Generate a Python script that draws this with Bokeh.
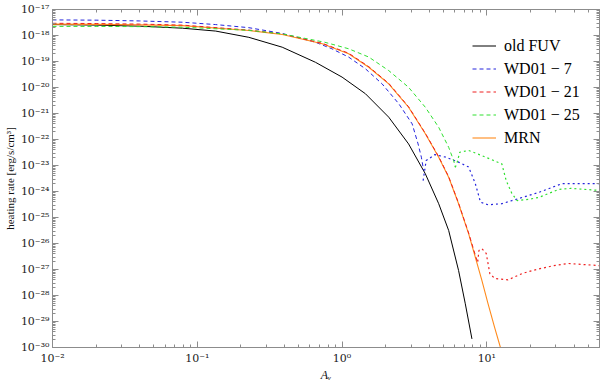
from bokeh.plotting import figure
from bokeh.models import (LogAxis, FixedTicker, CustomJSTickFormatter, Legend,
                          LegendItem, Range1d)
from bokeh.embed import file_html
from bokeh.resources import INLINE

# ---------------- data ----------------
av_oldfuv = [0.01, 0.02, 0.04, 0.079, 0.134, 0.227, 0.386, 0.655, 1.0, 1.45, 2.1, 2.88,
             3.76, 4.65, 5.45, 6.38, 7.1, 7.89]
rate_oldfuv = [2.63e-18, 2.51e-18, 2.29e-18, 1.91e-18, 1.48e-18, 8.51e-19, 3.55e-19,
               9.33e-20, 2.51e-20, 5.75e-21, 7.24e-22, 6.76e-23, 4.79e-24, 3.39e-25,
               3.16e-26, 9.12e-28, 4.79e-29, 2.14e-30]

av_wd7 = [0.01, 0.02, 0.04, 0.079, 0.134, 0.227, 0.386, 0.655, 0.85, 1.11, 1.45, 1.89,
          2.47, 3.05, 3.35, 3.53, 3.66]
rate_wd7 = [3.98e-18, 3.89e-18, 3.63e-18, 3.24e-18, 2.63e-18, 2.0e-18, 1.20e-18,
            5.50e-19, 3.09e-19, 1.48e-19, 5.25e-20, 1.38e-20, 2.34e-21, 3.98e-22,
            6.76e-23, 2.09e-23, 6.46e-24]
av_wd7_neg = [3.63, 3.81, 4.38, 5.2, 6.38, 7.49, 8.33, 9.04, 10.2, 12.7, 14.9, 22.7,
              33.0, 60.0]
rate_wd7_neg = [2.63e-24, 1.55e-23, 2.63e-23, 2.09e-23, 1.35e-23, 8.71e-24, 2.0e-24,
                3.89e-25, 3.09e-25, 3.39e-25, 4.47e-25, 9.12e-25, 2.0e-24, 2.0e-24]

av_wd21 = [0.01, 0.02, 0.04, 0.079, 0.227, 0.386, 0.73, 1.11, 1.53, 2.1, 2.88, 3.76,
           4.65, 5.45, 6.38, 7.49, 8.33, 8.6]
rate_wd21 = [2.95e-18, 2.88e-18, 2.75e-18, 2.51e-18, 1.62e-18, 1.15e-18, 5.01e-19,
             2.09e-19, 6.31e-20, 1.45e-20, 1.82e-21, 1.74e-22, 2.19e-23, 3.72e-24,
             3.55e-25, 2.51e-26, 3.55e-27, 2.0e-27]
av_wd21_neg = [8.65, 8.82, 9.24, 9.9, 10.5, 11.4, 14.0, 17.6, 22.0, 29.0, 36.6, 60.0]
rate_wd21_neg = [2.0e-27, 5.37e-27, 6.31e-27, 4.17e-27, 6.76e-28, 4.47e-28, 3.98e-28,
                 7.08e-28, 1.0e-27, 1.41e-27, 1.70e-27, 1.41e-27]

av_wd25 = [0.01, 0.02, 0.04, 0.079, 0.227, 0.386, 0.76, 1.11, 1.53, 2.1, 2.88, 3.76,
           4.65, 5.45, 5.9, 6.05]
rate_wd25 = [2.24e-18, 2.24e-18, 2.19e-18, 2.09e-18, 1.58e-18, 1.15e-18, 5.50e-19,
             3.09e-19, 1.48e-19, 4.47e-20, 1.02e-20, 1.74e-21, 2.95e-22, 5.01e-23,
             1.55e-23, 8.51e-24]
av_wd25_neg = [6.05, 6.2, 6.5, 7.49, 9.24, 12.7, 13.6, 14.9, 16.2, 19.5, 22.8, 31.3,
               38.0, 60.0]
rate_wd25_neg = [8.51e-24, 1.15e-23, 3.24e-23, 3.80e-23, 2.40e-23, 1.15e-23, 2.63e-24,
                 8.32e-25, 4.47e-25, 5.01e-25, 5.89e-25, 1.20e-24, 1.32e-24, 1.10e-24]

av_mrn = [0.01, 0.02, 0.04, 0.079, 0.227, 0.386, 0.73, 1.11, 1.53, 2.1, 2.88, 3.76,
          4.65, 5.45, 6.38, 7.49, 8.33, 9.24, 10.2, 11.3, 12.4, 12.6]
rate_mrn = [2.75e-18, 2.69e-18, 2.57e-18, 2.40e-18, 1.55e-18, 1.10e-18, 4.79e-19,
            2.0e-19, 6.03e-20, 1.38e-20, 1.74e-21, 1.66e-22, 2.09e-23, 3.55e-24,
            3.39e-25, 2.34e-26, 2.95e-27, 3.80e-28, 4.79e-29, 6.03e-30, 1.02e-30, 6.31e-31]

legend_labels = ["old FUV", "WD01 \u2212 7", "WD01 \u2212 21", "WD01 \u2212 25", "MRN"]

x_major = [0.01, 0.1, 1.0, 10.0]
y_major = [10.0 ** e for e in range(-30, -16)]
x_minor = [k * m for m in x_major for k in range(2, 10)]
y_minor = [k * m for m in y_major for k in range(2, 10)]

# ---------------- styling ----------------
FONT = "Liberation Serif"
TICK_FONT = "DejaVu Serif"
GRAY = "#8c8c8c"
C_BLACK, C_BLUE, C_RED, C_GREEN, C_ORANGE = "#000000", "#2424dc", "#ee2020", "#30e030", "#ff8a1c"

FW, FH = 547, 338
p = figure(frame_width=FW, frame_height=FH, x_axis_type="log", y_axis_type="log",
           x_range=Range1d(0.01, 60), y_range=Range1d(1e-30, 1e-17),
           output_backend="svg", toolbar_location=None,
           min_border_left=50, min_border_right=3, min_border_top=9, min_border_bottom=38)
p.grid.visible = False
p.outline_line_color = GRAY
p.background_fill_color = "white"

fmt_js = """
const sup = {'-':'\u207b','0':'\u2070','1':'\u00b9','2':'\u00b2','3':'\u00b3','4':'\u2074',
             '5':'\u2075','6':'\u2076','7':'\u2077','8':'\u2078','9':'\u2079'};
const e = Math.round(Math.log10(tick));
return '10' + String(e).split('').map(c => sup[c]).join('');
"""
blank_js = "return '';"

def style_axis(ax, ticks, minors, labels=True):
    ax.ticker = FixedTicker(ticks=ticks, minor_ticks=minors)
    ax.formatter = CustomJSTickFormatter(code=fmt_js if labels else blank_js)
    ax.axis_line_color = GRAY
    ax.major_tick_line_color = GRAY
    ax.minor_tick_line_color = GRAY
    ax.major_tick_in = 6
    ax.major_tick_out = 0
    ax.minor_tick_in = 3
    ax.minor_tick_out = 0
    ax.major_label_text_font = TICK_FONT
    ax.major_label_text_font_size = "11px"
    ax.major_label_text_color = "#222222"
    ax.axis_label_text_font = FONT
    ax.axis_label_text_color = "#111111"

xa = p.xaxis[0]
ya = p.yaxis[0]
style_axis(xa, x_major, x_minor)
style_axis(ya, y_major, y_minor)
xa.major_label_standoff = 4
ya.major_label_standoff = 3
xa.axis_label = "A\u1d65"
xa.axis_label_text_font_size = "12px"
xa.axis_label_text_font_style = "italic"
xa.axis_label_standoff = 0
ya.axis_label = "heating rate [erg/s/cm\u00b3]"
ya.axis_label_text_font_size = "11px"
ya.axis_label_text_font_style = "normal"
ya.axis_label_standoff = 2

top = LogAxis()
style_axis(top, x_major, x_minor, labels=False)
top.major_label_text_font_size = "0px"
p.add_layout(top, "above")
right = LogAxis()
style_axis(right, y_major, y_minor, labels=False)
right.major_label_text_font_size = "0px"
p.add_layout(right, "right")

# ---------------- lines ----------------
DASH = "4 3"
DOT = "2 3"
r_old = p.line(av_oldfuv, rate_oldfuv, line_color=C_BLACK, line_width=1)
r_wd7 = p.line(av_wd7, rate_wd7, line_color=C_BLUE, line_width=1, line_dash=DASH)
p.line(av_wd7_neg, rate_wd7_neg, line_color=C_BLUE, line_width=1.2, line_dash=DOT)
r_mrn = p.line(av_mrn, rate_mrn, line_color=C_ORANGE, line_width=1.1)
r_wd21 = p.line(av_wd21, rate_wd21, line_color=C_RED, line_width=1, line_dash=DASH)
p.line(av_wd21_neg, rate_wd21_neg, line_color=C_RED, line_width=1.2, line_dash=DOT)
r_wd25 = p.line(av_wd25, rate_wd25, line_color=C_GREEN, line_width=1, line_dash=DASH)
p.line(av_wd25_neg, rate_wd25_neg, line_color=C_GREEN, line_width=1.2, line_dash=DOT)

legend = Legend(items=[LegendItem(label=lbl, renderers=[r]) for lbl, r in
                       zip(legend_labels, [r_old, r_wd7, r_wd21, r_wd25, r_mrn])],
                location=(420, FH - 139))
legend.border_line_color = None
legend.background_fill_alpha = 0
legend.label_text_font = FONT
legend.label_text_font_size = "16px"
legend.label_text_color = "#000000"
legend.glyph_width = 24
legend.glyph_height = 21
legend.label_height = 21
legend.spacing = 2
legend.padding = 5
legend.label_standoff = 8
p.add_layout(legend, "center")

open("out.html", "w").write(file_html(p, INLINE))
